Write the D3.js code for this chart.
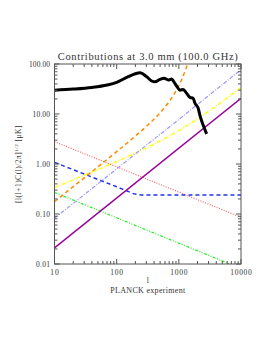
<!DOCTYPE html>
<html><head><meta charset="utf-8">
<script src="https://cdn.jsdelivr.net/npm/d3@7"></script>
<style>body{margin:0;background:#fff}svg{display:block}</style>
</head><body>
<script>
// ---- data ----
const titleText = "Contributions at 3.0 mm (100.0 GHz)";
const xTickLabels = ["10","100","1000","10000"];
const xTickValues = [10,100,1000,10000];
const yTickLabels = ["100.00","10.00","1.00","0.10","0.01"];
const yTickValues = [100,10,1,0.1,0.01];

const cmbL = [10,20,40,70,100,150,200,237,303,366,413,497,576,676,766,813,922,1042,1175,1333,1510,1700,1820,2050,2180,2460,2800];
const cmbV = [30,31.5,34,38,43,55,64,67,55.8,45.7,44,49.3,52,47.9,50,46,36.3,30,31,25.9,21.5,20.6,16.4,13,9.5,6,4];

const orangeL = [10,20,50,100,200,300,500,700,900,1100,1300,1400];
const orangeV = [0.176,0.352,0.88,1.77,3.63,5.64,10.6,17.7,28.9,47.4,79.9,105];

const lightBlueL = [10,100,1000,10000];
const lightBlueV = [0.082,0.8,7.8,77];

const yellowL = [10,20,50,100,200,500,1000,2000,5000,10000];
const yellowV = [0.34,0.485,0.777,1.12,1.65,2.89,4.67,8.0,17.7,33.8];

const purpleL = [10,10000];
const purpleV = [0.021,20.6];

const redL = [10,10000];
const redV = [2.8,0.086];

const blueL = [10,20,50,100,150,200,300,10000];
const blueV = [1.08,0.77,0.49,0.35,0.285,0.25,0.24,0.24];

const greenL = [10,10000];
const greenV = [0.27,0.0081];

// ---- layout ----
const W = 274, H = 355;
const svg = d3.select("body").append("svg").attr("width", W).attr("height", H);
const x = d3.scaleLog().domain([10,10000]).range([54.5,241]);
const y = d3.scaleLog().domain([0.01,100]).range([264,64]);
const font = "'Liberation Serif', 'DejaVu Serif', serif";
const axisColor = "#555";
const textColor = "#333";

svg.append("defs").append("clipPath").attr("id","plotclip")
  .append("rect").attr("x",x.range()[0]).attr("y",y.range()[1])
  .attr("width",x.range()[1]-x.range()[0]).attr("height",y.range()[0]-y.range()[1]);

const plot = svg.append("g").attr("clip-path","url(#plotclip)");
const line = d3.line().x(d=>x(d[0])).y(d=>y(d[1])).curve(d3.curveMonotoneX);
function series(L,V,color,width,dash){
  plot.append("path").datum(L.map((l,i)=>[l,V[i]]))
    .attr("d",line).attr("fill","none").attr("stroke",color)
    .attr("stroke-width",width).attr("stroke-dasharray",dash||null)
    .attr("stroke-linejoin","round");
}
series(greenL,greenV,"#22ee22",1.2,"3,1.5,1,1.5,1,1.5");
series(redL,redV,"#ff5555",1.1,"1,1.5");
series(blueL,blueV,"#2233ee",1.5,"4,3");
series(purpleL,purpleV,"#990099",1.4,null);
series(yellowL,yellowV,"#ffff00",1.4,"4,1.5,1,1.5");
series(lightBlueL,lightBlueV,"#9999ff",1.2,"4,1.5,1,1.5");
series(orangeL,orangeV,"#ff8c00",1.5,"4,3");
series(cmbL,cmbV,"#000",3,null);

// frame
const x0=x.range()[0], x1=x.range()[1], y0=y.range()[0], y1=y.range()[1];
svg.append("rect").attr("x",x0).attr("y",y1).attr("width",x1-x0).attr("height",y0-y1)
  .attr("fill","none").attr("stroke",axisColor).attr("stroke-width",1);

// ticks (inward, all sides)
const tg = svg.append("g").attr("stroke",axisColor).attr("stroke-width",1);
x.ticks().forEach(t=>{
  const major = xTickValues.includes(t);
  const len = major?5:3;
  const px = x(t);
  tg.append("line").attr("x1",px).attr("x2",px).attr("y1",y0).attr("y2",y0-len);
  tg.append("line").attr("x1",px).attr("x2",px).attr("y1",y1).attr("y2",y1+len);
});
y.ticks().forEach(t=>{
  const major = yTickValues.some(v=>Math.abs(v-t)/v<1e-6);
  const len = major?5:3;
  const py = y(t);
  tg.append("line").attr("x1",x0).attr("x2",x0+len).attr("y1",py).attr("y2",py);
  tg.append("line").attr("x1",x1).attr("x2",x1-len).attr("y1",py).attr("y2",py);
});

// tick labels
xTickValues.forEach((v,i)=>{
  svg.append("text").attr("x",x(v)).attr("y",275).attr("text-anchor","middle")
    .attr("font-family",font).attr("font-size",7.5).attr("fill",textColor)
    .attr("textLength",xTickLabels[i].length*4.3).attr("lengthAdjust","spacing")
    .text(xTickLabels[i]);
});
yTickValues.forEach((v,i)=>{
  svg.append("text").attr("x",50).attr("y",y(v)+2.5).attr("text-anchor","end")
    .attr("font-family",font).attr("font-size",7.5).attr("fill",textColor)
    .attr("textLength",yTickLabels[i].length*3.5).attr("lengthAdjust","spacing")
    .text(yTickLabels[i]);
});

// title
svg.append("text").attr("x",(x0+x1)/2).attr("y",60).attr("text-anchor","middle")
  .attr("font-family",font).attr("font-size",10.5).attr("fill",textColor)
  .attr("textLength",180).attr("lengthAdjust","spacing").text(titleText);

// x labels
svg.append("text").attr("x",(x0+x1)/2).attr("y",283).attr("text-anchor","middle")
  .attr("font-family",font).attr("font-size",7.5).attr("fill",textColor).text("l");
svg.append("text").attr("x",(x0+x1)/2).attr("y",292.5).attr("text-anchor","middle")
  .attr("font-family",font).attr("font-size",8).attr("fill",textColor)
  .attr("textLength",75).attr("lengthAdjust","spacing").text("PLANCK experiment");

// y label
const yl = svg.append("text").attr("transform",`translate(21,${(y0+y1)/2}) rotate(-90)`)
  .attr("text-anchor","middle").attr("font-family",font).attr("font-size",7.5)
  .attr("fill",textColor).attr("letter-spacing",0.5);
yl.append("tspan").text("[l(l+1)C(l)/2π]");
yl.append("tspan").attr("font-size",5).attr("dy",-3).text("1/2");
yl.append("tspan").attr("dy",3).text(" [μK]");
</script>
</body></html>
